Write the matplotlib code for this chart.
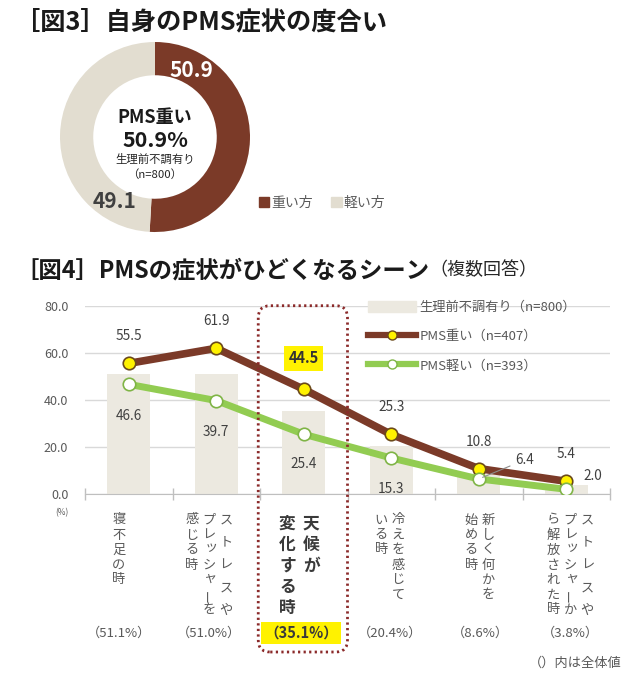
import numpy as np
import matplotlib.pyplot as plt
from matplotlib.patches import FancyBboxPatch, Rectangle
from matplotlib.lines import Line2D

plt.rcParams['font.family'] = ['Noto Sans CJK JP', 'DejaVu Sans']

# [図3] PMS severity (n=800)
severity_labels = ["重い方", "軽い方"]
severity_values = [50.9, 49.1]

# [図4] scenes where PMS gets worse (multiple answers)
scene_labels = [
    ["寝不足の時"],
    ["ス ト レ ス や", "プレッシャーを", "感じる時"],
    ["天候が", "変化する時"],
    ["冷えを感じて", "いる時"],
    ["新しく何かを", "始める時"],
    ["ス ト レ ス や", "プレッシャーか", "ら解放された時"],
]
overall = [51.1, 51.0, 35.1, 20.4, 8.6, 3.8]   # 生理前不調有り (n=800)
heavy = [55.5, 61.9, 44.5, 25.3, 10.8, 5.4]    # PMS重い (n=407)
light = [46.6, 39.7, 25.4, 15.3, 6.4, 2.0]     # PMS軽い (n=393)
series_names = ["生理前不調有り（n=800）", "PMS重い（n=407）", "PMS軽い（n=393）"]
highlight = 2

BROWN = "#7B3A28"
BEIGE = "#E2DDD0"
BAR = "#ECE9E0"
GREEN = "#92CC52"
YELLOW = "#FFF200"
GRAY = "#595959"
DARK = "#404040"

W, H = 642, 681
PT = 0.72  # points per pixel at dpi 100

fig = plt.figure(figsize=(W / 100, H / 100), dpi=100)


def px_box(left, top, width, height):
    return [left / W, 1 - (top + height) / H, width / W, height / H]


# ---------------- [図3] donut ----------------
fig.text(15 / W, 1 - 22 / H, "［図3］自身のPMS症状の度合い", fontsize=18.2,
         fontweight="bold", color="#1A1A1A", va="center", ha="left")

ax1 = fig.add_axes(px_box(60, 42, 190, 190))
wedges, _ = ax1.pie(severity_values, colors=[BROWN, BEIGE], startangle=90,
                    counterclock=False, radius=1,
                    wedgeprops=dict(width=0.35, edgecolor="none"))
ax1.set_xlim(-1, 1)
ax1.set_ylim(-1, 1)
ax1.set_aspect("equal")
ax1.axis("off")

start = 0.0
for val, col in zip(severity_values, ["white", DARK]):
    ang = np.deg2rad(start + 29)
    ax1.text(0.8 * np.sin(ang), 0.8 * np.cos(ang), f"{val:.1f}",
             ha="center", va="center", fontsize=15, fontweight="bold", color=col)
    start += val / sum(severity_values) * 360

ax1.text(0, 0.2, "PMS重い", ha="center", va="center", fontsize=13,
         fontweight="bold", color="#1A1A1A")
ax1.text(0, -0.04, f"{severity_values[0]:.1f}%", ha="center", va="center",
         fontsize=15.5, fontweight="bold", color="#1A1A1A")
ax1.text(0, -0.24, "生理前不調有り", ha="center", va="center", fontsize=8.2, color="#262626")
ax1.text(0, -0.39, "（n=800）", ha="center", va="center", fontsize=8.2, color="#262626")

sev_handles = [Rectangle((0, 0), 1, 1, color=c) for c in [BROWN, BEIGE]]
leg1 = fig.legend(sev_handles, severity_labels, loc="center left",
                  bbox_to_anchor=(252 / W, 1 - 203 / H), ncol=2, frameon=False,
                  fontsize=10, handlelength=0.75, handleheight=0.75,
                  handletextpad=0.15, columnspacing=1.3, borderpad=0)
for t in leg1.get_texts():
    t.set_color(GRAY)

# ---------------- [図4] line + bar chart ----------------
t4 = fig.text(15 / W, 1 - 270 / H, "［図4］PMSの症状がひどくなるシーン", fontsize=16.8,
              fontweight="bold", color="#1A1A1A", va="center", ha="left")
ax2 = fig.add_axes(px_box(85, 305.7, 525, 188.3))
ax2.annotate("（複数回答）", xy=(1, 0.5), xycoords=t4, xytext=(0, 0),
             textcoords="offset points", va="center", ha="left",
             fontsize=13, color="#262626")

x = np.arange(len(overall))
ax2.bar(x, overall, width=0.49, color=BAR, zorder=1)
ax2.plot(x, heavy, color=BROWN, lw=5.5, marker="o", ms=9, mfc=YELLOW,
         mec="#6B4A1A", mew=1.2, zorder=3)
ax2.plot(x, light, color=GREEN, lw=5, marker="o", ms=9, mfc="white",
         mec="#7FB446", mew=1.2, zorder=4)

ax2.set_xlim(-0.5, len(overall) - 0.5)
ax2.set_ylim(0, 80)
ax2.set_yticks([0, 20, 40, 60, 80])
ax2.set_yticklabels([f"{v:.1f}" for v in [0, 20, 40, 60, 80]])
ax2.tick_params(axis="y", length=0, pad=12, labelsize=9, labelcolor=GRAY)
ax2.yaxis.grid(True, color="#D9D9D9", lw=1)
ax2.set_axisbelow(True)
ax2.set_xticks([])
ax2.set_xticks(np.arange(-0.5, len(overall)), minor=True)
ax2.tick_params(axis="x", which="minor", direction="inout", length=8,
                color="#BFBFBF", width=1)
for s in ["top", "right", "left"]:
    ax2.spines[s].set_visible(False)
ax2.spines["bottom"].set_color("#BFBFBF")
ax2.patch.set_alpha(0)

leg_handles = [
    Rectangle((0, 0), 1, 1, color=BAR),
    Line2D([], [], color=BROWN, lw=4.5, marker="o", ms=6.5, mfc=YELLOW, mec="#6B4A1A", mew=1),
    Line2D([], [], color=GREEN, lw=4.5, marker="o", ms=6.5, mfc="white", mec="#7FB446", mew=1),
]
leg2 = ax2.legend(leg_handles, series_names, loc="upper left",
                  bbox_to_anchor=(361 / W, 1 - 294 / H),
                  bbox_transform=fig.transFigure, frameon=False, fontsize=9.5,
                  handlelength=3.7, handleheight=0.95, handletextpad=0.25,
                  labelspacing=1.22, borderpad=0)
for t in leg2.get_texts():
    t.set_color(GRAY)

# value labels
for i, v in enumerate(heavy):
    if i == highlight:
        ax2.annotate(f"{v:.1f}", (i, v), xytext=(0, 31 * PT), textcoords="offset points",
                     ha="center", va="center", fontsize=10.5, fontweight="bold",
                     color="#333333", zorder=6,
                     bbox=dict(boxstyle="square,pad=0.3", fc=YELLOW, ec="none"))
    else:
        ax2.annotate(f"{v:.1f}", (i, v), xytext=(0, 27 * PT), textcoords="offset points",
                     ha="center", va="center", fontsize=9.8, color=DARK, zorder=6)

green_offsets = [(0, -32), (0, -31), (0, -30), (0, -31), (46, 19), (27, 13)]
for i, v in enumerate(light):
    dx, dy = green_offsets[i]
    arrow = None
    if i == 4:
        arrow = dict(arrowstyle="-", color="#8C8C8C", lw=0.8, shrinkA=2, shrinkB=3)
    ax2.annotate(f"{v:.1f}", (i, v), xytext=(dx * PT, dy * PT), textcoords="offset points",
                 ha="center", va="center", fontsize=9.8, color=DARK, zorder=6,
                 arrowprops=arrow)

# category labels as vertical text
for i, cols in enumerate(scene_labels):
    bold = i == highlight
    col_gap = 24 if bold else 17
    pitch = 21 if bold else 15
    top = 30 if bold else 26
    shift = -10 + 2.8 * i
    n = len(cols)
    for j, col in enumerate(cols):
        cx = shift + ((n - 1) / 2 - j) * col_gap
        slot = 0.0
        for ch in col:
            if ch == " ":
                slot += 0.5
                continue
            rot = 90 if ch == "ー" else 0
            dx, dy = (2, 2) if ch in "ッャ" else (0, 0)
            ax2.annotate(ch, (i, 0), xytext=((cx + dx) * PT, -(top + slot * pitch - dy) * PT),
                         textcoords="offset points", ha="center", va="center",
                         rotation=rot, fontsize=12 if bold else 9.5,
                         fontweight="bold" if bold else "normal",
                         color="#3A3A3A" if bold else GRAY, annotation_clip=False)
            slot += 1

    pct = f"（{overall[i]:.1f}%）"
    if bold:
        ax2.annotate(pct, (i, 0), xytext=((shift + 2) * PT, -139 * PT),
                     textcoords="offset points", ha="center", va="center",
                     fontsize=10.5, fontweight="bold", color="#3A3A3A",
                     annotation_clip=False,
                     bbox=dict(boxstyle="square,pad=0.2", fc=YELLOW, ec="none"))
    else:
        ax2.annotate(pct, (i, 0), xytext=(shift * PT, -139 * PT),
                     textcoords="offset points", ha="center", va="center",
                     fontsize=9.5, color=GRAY, annotation_clip=False)

ax2.annotate("(%)", (0, 0), xycoords="axes fraction", xytext=(-23 * PT, -19 * PT),
             textcoords="offset points", ha="center", va="center", fontsize=6, color=GRAY)
ax2.annotate("（）内は全体値", (1, 0), xycoords="axes fraction", xytext=(12 * PT, -169 * PT),
             textcoords="offset points", ha="right", va="center", fontsize=9.5, color=GRAY)

# dotted rounded frame around the highlighted scene
x0, y_top = ax2.transData.transform((highlight - 0.52, 80))
x1, y_base = ax2.transData.transform((highlight + 0.5, 0))
y_bot = y_base - 158
frame = FancyBboxPatch((x0, y_bot), x1 - x0, y_top - y_bot,
                       boxstyle="round,pad=0,rounding_size=12", fill=False,
                       ec="#8B2A2A", lw=2, ls=(0, (0.8, 1.2)),
                       transform=None, figure=fig, zorder=10)
fig.patches.append(frame)

fig.savefig("out.png", dpi=100)
